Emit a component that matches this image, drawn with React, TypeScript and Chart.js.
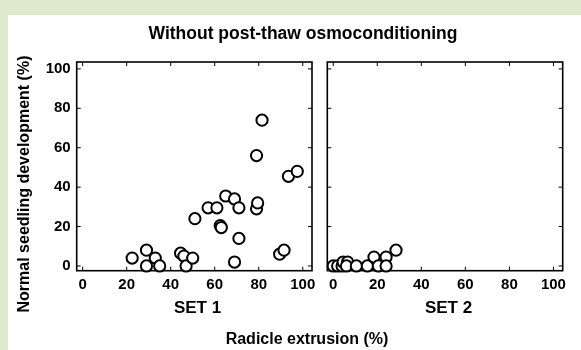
import React, { useEffect, useRef } from "react";
import { Chart, registerables } from "chart.js";

Chart.register(...registerables);

// ---- data ----
const tickValues = [0, 20, 40, 60, 80, 100];

const set1X = [22.5, 29, 29, 33, 35, 44.5, 46, 47, 50, 51, 57, 61, 62.5, 63, 65, 69, 69, 71, 71, 79, 79.5, 79, 81.5, 89.5, 91.5, 93.5, 97.5];
const set1Y = [4, 8, 0, 4, 0, 6.5, 5, 0, 4, 24, 29.5, 29.5, 20.5, 19.5, 35.5, 34, 2, 29.5, 14, 29, 32, 56, 74, 6, 8, 45.5, 48];

const set2X = [0, 2, 4, 4.5, 6.5, 6, 10.5, 15.5, 18.5, 20.5, 24, 24, 28.5];
const set2Y = [0, 0, 0, 2, 2, 0, 0, 0, 4.5, 0, 4.5, 0, 8];

const titleText = "Without post-thaw osmoconditioning";
const yTitleText = "Normal seedling development (%)";
const xTitleText = "Radicle extrusion (%)";
const panelLabels = ["SET 1", "SET 2"];

const FONT = '"Liberation Sans", Arial, Helvetica, sans-serif';
const W = 581;
const H = 350;

const bgPlugin = {
  id: "bgPlugin",
  beforeDraw(chart: any) {
    const ctx = chart.ctx;
    ctx.save();
    ctx.fillStyle = "rgb(221,234,205)";
    ctx.fillRect(0, 0, W, H);
    ctx.fillStyle = "#ffffff";
    ctx.fillRect(8, 15, W - 8, H - 15);
    ctx.restore();
  },
};

const frameTicksPlugin = {
  id: "frameTicks",
  beforeDatasetsDraw(chart: any) {
    const { ctx, chartArea } = chart;
    const { left, right, top, bottom } = chartArea;
    const x = chart.scales.x;
    const y = chart.scales.y;
    ctx.save();
    ctx.strokeStyle = "#000";
    ctx.lineWidth = 1;
    ctx.beginPath();
    for (const v of tickValues) {
      const px = x.getPixelForValue(v);
      ctx.moveTo(px, bottom);
      ctx.lineTo(px, bottom - 4);
      ctx.moveTo(px, top);
      ctx.lineTo(px, top + 4);
      const py = y.getPixelForValue(v);
      ctx.moveTo(left, py);
      ctx.lineTo(left + 4, py);
      ctx.moveTo(right, py);
      ctx.lineTo(right - 4, py);
    }
    ctx.stroke();
    ctx.lineWidth = 1.6;
    ctx.strokeRect(left, top, right - left, bottom - top);
    ctx.restore();
  },
};

const textPlugin = {
  id: "texts",
  afterDraw(chart: any) {
    const ctx = chart.ctx;
    ctx.save();
    ctx.fillStyle = "#000";
    ctx.textAlign = "center";
    ctx.textBaseline = "middle";
    ctx.font = `bold 17.5px ${FONT}`;
    ctx.fillText(titleText, 303, 34);
    ctx.font = `bold 17px ${FONT}`;
    ctx.fillText(panelLabels[0], 197.5, 308.5);
    ctx.fillText(panelLabels[1], 448.5, 308.5);
    ctx.font = `bold 16px ${FONT}`;
    ctx.fillText(xTitleText, 307, 340);
    ctx.translate(25, 184);
    ctx.rotate(-Math.PI / 2);
    ctx.fillText(yTitleText, 0, 0);
    ctx.restore();
  },
};

function makeConfig(xs: number[], ys: number[], yWidth: number, padRight: number, showY: boolean, withDecor: boolean): any {
  const tickFont = { family: FONT, size: 15, weight: "bold" as const };
  return {
    type: "scatter",
    data: {
      datasets: [
        {
          data: xs.map((v, i) => ({ x: v, y: ys[i] })),
          pointStyle: "circle",
          pointRadius: 5.6,
          pointBorderWidth: 2,
          pointBackgroundColor: "#ffffff",
          pointBorderColor: "#000000",
          showLine: false,
          clip: false,
        },
      ],
    },
    options: {
      responsive: false,
      animation: false,
      events: [],
      layout: { padding: { left: 0, top: 62, right: padRight, bottom: 0 } },
      plugins: { legend: { display: false }, tooltip: { enabled: false }, title: { display: false } },
      scales: {
        x: {
          type: "linear",
          min: -2.7,
          max: 104.2,
          afterBuildTicks: (s: any) => {
            s.ticks = tickValues.map((v) => ({ value: v }));
          },
          afterFit: (s: any) => {
            s.height = H - 270.7;
          },
          grid: { display: false, drawTicks: false },
          border: { display: false },
          ticks: { font: tickFont, color: "#000", padding: 5, maxRotation: 0, autoSkip: false },
        },
        y: {
          type: "linear",
          min: -2.4,
          max: 103.5,
          afterBuildTicks: (s: any) => {
            s.ticks = tickValues.map((v) => ({ value: v }));
          },
          afterFit: (s: any) => {
            s.width = yWidth;
          },
          grid: { display: false, drawTicks: false },
          border: { display: false },
          ticks: { display: showY, font: tickFont, color: "#000", padding: 6, autoSkip: false },
        },
      },
    },
    plugins: withDecor ? [bgPlugin, frameTicksPlugin, textPlugin] : [frameTicksPlugin],
  };
}

export default function App() {
  const ref1 = useRef<HTMLCanvasElement | null>(null);
  const ref2 = useRef<HTMLCanvasElement | null>(null);

  useEffect(() => {
    if (!ref1.current || !ref2.current) return;
    const c1 = new Chart(ref1.current, makeConfig(set1X, set1Y, 76.7, W - 312, true, true));
    const c2 = new Chart(ref2.current, makeConfig(set2X, set2Y, 327.3, W - 562.7, false, false));
    return () => {
      c1.destroy();
      c2.destroy();
    };
  }, []);

  const cs: React.CSSProperties = { position: "absolute", left: 0, top: 0, width: W, height: H };
  return (
    <div style={{ position: "absolute", left: 0, top: 0, width: W, height: H }}>
      <canvas ref={ref1} width={W} height={H} style={cs} />
      <canvas ref={ref2} width={W} height={H} style={{ ...cs, pointerEvents: "none" }} />
    </div>
  );
}
